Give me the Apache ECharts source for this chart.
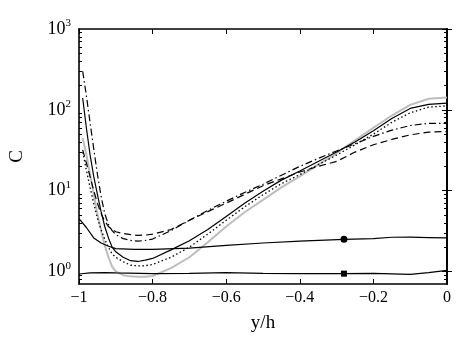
<!DOCTYPE html>
<html><head><meta charset="utf-8">
<script src="https://cdn.jsdelivr.net/npm/echarts@6/dist/echarts.min.js"></script>
<style>html,body{margin:0;padding:0;background:#fff}#c{width:466px;height:348px}</style>
</head><body><div id="c"></div>
<script>
// ---------- data ----------
const xs = [-0.99,-0.98,-0.97,-0.96,-0.95,-0.94,-0.93,-0.92,-0.91,-0.9,-0.88,-0.86,-0.84,-0.82,-0.8,-0.75,-0.7,-0.65,-0.6,-0.55,-0.5,-0.45,-0.4,-0.35,-0.3,-0.25,-0.2,-0.15,-0.1,-0.05,0];
const solidVals   = [140,60,28,15,9,5.5,3.6,2.6,2.0,1.75,1.5,1.36,1.33,1.38,1.45,1.85,2.4,3.3,4.8,7.0,9.8,13.5,17.5,23,30,40,55,78,104,117,121];
const dottedVals  = [30,18,11,7,4.6,3.3,2.5,2.0,1.65,1.5,1.32,1.2,1.17,1.18,1.22,1.5,2.0,2.9,4.3,6.3,8.9,12.2,15.8,21,27.5,37,50,70,92,108,112];
const grayVals    = [45,28,16,9,5.2,3.2,2.1,1.5,1.15,1.0,0.9,0.87,0.86,0.86,0.88,1.1,1.5,2.3,3.6,5.4,7.7,11,15,21,29,42,60,85,115,137,142];
const dashedVals  = [32,22,15,10,7,5.2,4.2,3.6,3.3,3.1,2.95,2.85,2.8,2.82,2.9,3.3,4.3,5.5,7,9,11.5,14,17,20,23,30,37,43,49,53,54];
const dashDotVals = [300,150,70,33,16,8.5,5.2,3.8,3.2,2.85,2.55,2.42,2.38,2.42,2.52,3.2,4.3,5.7,7.4,9.5,12,15.5,20,25,31,38,47,56,64,68,68];

const circleXs   = [-1,-0.98,-0.96,-0.94,-0.92,-0.9,-0.85,-0.8,-0.7,-0.6,-0.5,-0.4,-0.28,-0.2,-0.15,-0.1,-0.05,0];
const circleVals = [4.5,3.5,2.6,2.25,2.05,1.92,1.88,1.88,1.95,2.1,2.25,2.38,2.5,2.55,2.65,2.66,2.63,2.6];
const circleMarkX = -0.28;

const squareXs   = [-1,-0.97,-0.93,-0.9,-0.8,-0.7,-0.6,-0.5,-0.4,-0.28,-0.2,-0.1,-0.05,0];
const squareVals = [0.93,0.96,0.97,0.96,0.94,0.95,0.97,0.95,0.94,0.94,0.95,0.92,0.97,1.03];
const squareMarkX = -0.28;

const yMajorTicks = [1,10,100,1000];
const yMinorTicks = [0.8,0.9,2,3,4,5,6,7,8,9,20,30,40,50,60,70,80,90,200,300,400,500,600,700,800,900];
const xMin = -1, xMax = 0, xStep = 0.2;
const yMin = 0.7, yMax = 1000;

// ---------- chart ----------
const FONT = 'Liberation Serif';
function pairs(x, y) { return x.map((v, i) => [v, y[i]]); }
function marked(x, y, mx, sym, size) {
  return x.map((v, i) => v === mx ? {value: [v, y[i]], symbol: sym, symbolSize: size, itemStyle: {color: '#000'}} : {value: [v, y[i]], symbol: 'none'});
}
function lineSeries(data, color, width, type) {
  return {type: 'line', data: data, xAxisIndex: 0, yAxisIndex: 0, symbol: 'none', showSymbol: false,
    lineStyle: {color: color, width: width, type: type, cap: 'butt'}, silent: true, animation: false, z: 3};
}
const yFmt = v => '{b|10}{s|' + Math.round(Math.log10(v)) + '}';
function yAxisDef(pos, major, labels) {
  return {
    type: 'log', logBase: 10, min: yMin, max: yMax, position: pos,
    name: labels ? 'C' : '', nameLocation: 'middle', nameGap: 52,
    nameTextStyle: {fontFamily: FONT, fontSize: 19, color: '#000'},
    axisLine: {show: true, lineStyle: {color: '#000', width: 1.6}},
    axisTick: {show: true, inside: true, length: major ? 5 : 3, lineStyle: {color: '#000', width: 1}},
    customValues: undefined,
    axisLabel: labels ? {show: true, margin: 8, customValues: yMajorTicks, formatter: yFmt,
      rich: {b: {fontFamily: FONT, fontSize: 18, color: '#000', lineHeight: 22},
             s: {fontFamily: FONT, fontSize: 11, color: '#000', lineHeight: 11, verticalAlign: 'top'}}} : {show: false},
    splitLine: {show: false}, minorTick: {show: false}
  };
}
function xAxisDef(pos, labels) {
  return {
    type: 'value', min: xMin, max: xMax, interval: xStep, position: pos,
    name: labels ? 'y/h' : '', nameLocation: 'middle', nameGap: 30,
    nameTextStyle: {fontFamily: FONT, fontSize: 19, color: '#000'},
    axisLine: {show: true, onZero: false, lineStyle: {color: '#000', width: 1.6}},
    axisTick: {show: true, inside: true, length: 5, lineStyle: {color: '#000', width: 1}},
    axisLabel: labels ? {show: true, margin: 6, fontFamily: FONT, fontSize: 16, color: '#000',
      formatter: v => String(+v.toFixed(2)).replace('-', '\u2212')} : {show: false},
    splitLine: {show: false}
  };
}
function fixTicks(ax, major) { ax.axisTick.customValues = major ? yMajorTicks : yMinorTicks; delete ax.customValues; return ax; }

const chart = echarts.init(document.getElementById('c'), null, {renderer: 'canvas'});
chart.setOption({
  animation: false,
  backgroundColor: '#fff',
  grid: {left: 79, right: 19, top: 29, bottom: 64, containLabel: false},
  xAxis: [xAxisDef('bottom', true), xAxisDef('top', false)],
  yAxis: [fixTicks(yAxisDef('left', true, true), true), fixTicks(yAxisDef('right', true, false), true),
          fixTicks(yAxisDef('left', false, false), false), fixTicks(yAxisDef('right', false, false), false)],
  series: [
    Object.assign(lineSeries(pairs(xs, grayVals), '#bdbdbd', 2, 'solid'), {z: 2}),
    lineSeries(pairs(xs, solidVals), '#000', 1.2, 'solid'),
    lineSeries(pairs(xs, dottedVals), '#000', 1.3, [1.5, 2.5]),
    lineSeries(pairs(xs, dashedVals), '#000', 1.2, [7, 4]),
    lineSeries(pairs(xs, dashDotVals), '#000', 1.2, [7, 3, 1.5, 3]),
    Object.assign(lineSeries(marked(circleXs, circleVals, circleMarkX, 'circle', 7), '#000', 1.2, 'solid'), {showSymbol: true}),
    Object.assign(lineSeries(marked(squareXs, squareVals, squareMarkX, 'rect', 6), '#000', 1.2, 'solid'), {showSymbol: true})
  ]
});
</script></body></html>
